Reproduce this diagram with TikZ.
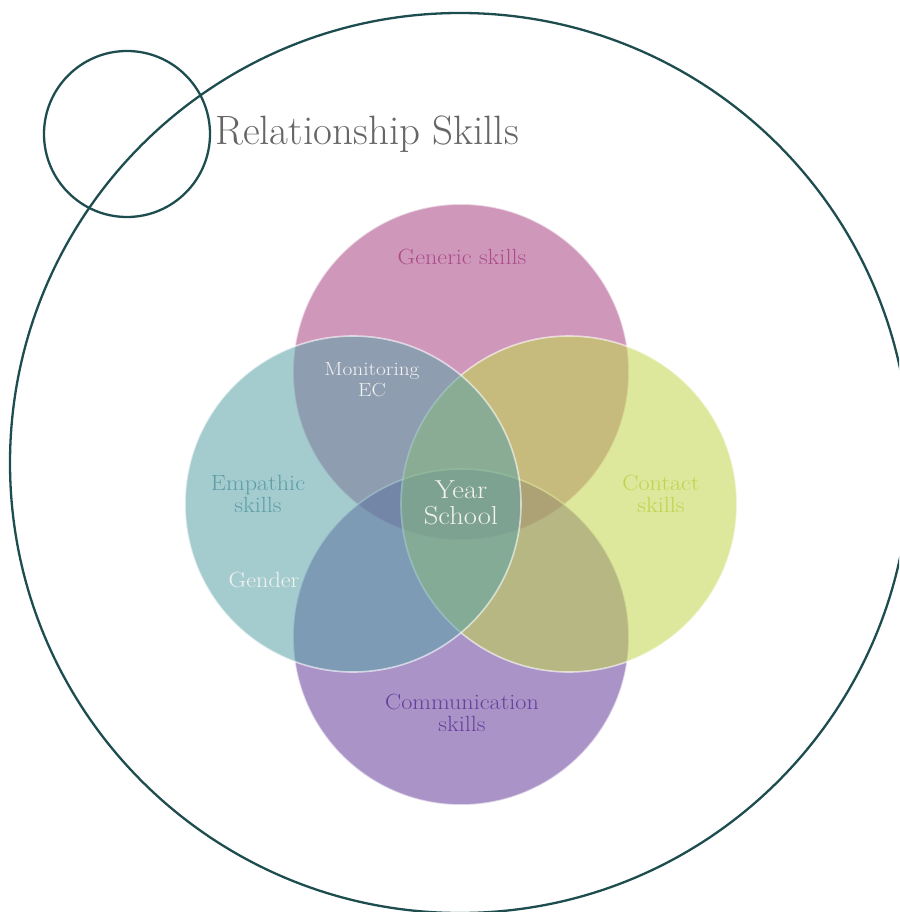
\documentclass[tikz,border=0pt]{standalone}
\begin{document}
\definecolor{ringcol}{RGB}{30,77,79}
\definecolor{pinkfill}{RGB}{168,68,131}
\definecolor{tealfill}{RGB}{90,162,168}
\definecolor{limefill}{RGB}{193,213,75}
\definecolor{violetfill}{RGB}{100,60,153}
\definecolor{titlegray}{RGB}{102,102,102}
\definecolor{pinktext}{RGB}{172,76,138}
\definecolor{tealtext}{RGB}{92,158,163}
\definecolor{limetext}{RGB}{190,212,78}
\definecolor{violettext}{RGB}{102,64,156}
\definecolor{softwhite}{RGB}{242,242,240}
\begin{tikzpicture}[x=1pt,y=-1pt,
  ring/.style={draw=ringcol,line width=2.3pt},
  petal/.style={fill=#1,fill opacity=0.55,draw=white,draw opacity=0.6,line width=1.6pt},
  lbl/.style={align=center,inner sep=0pt,xscale=1.1,font=\fontsize{22}{22}\selectfont}]
\useasboundingbox (0,0) rectangle (899,912);
% outer rings
\begin{scope}
\clip (0,0) rectangle (899,912);
\draw[ring] (460,463) circle[radius=450pt];
\end{scope}
\draw[ring] (127,134) circle[radius=83pt];
% the four overlapping skill circles
\path[petal=pinkfill]   (461,372) circle[radius=168pt];
\path[petal=violetfill] (461,637) circle[radius=168pt];
\path[petal=limefill]   (569,504) circle[radius=168pt];
\path[petal=tealfill]   (353,504) circle[radius=168pt];
% labels
\node[anchor=west,inner sep=0pt,text=titlegray,font=\fontsize{41}{46}\selectfont] (title) at (215,134) {Relationship Skills};
\node[lbl,text=pinktext] (generic) at (462,257) {Generic skills};
\node[lbl,text=softwhite,xscale=1.02,font=\fontsize{19}{21}\selectfont] (monitor) at (372,380) {Monitoring\\EC};
\node[lbl,text=tealtext] (empathic) at (258,494) {Empathic\\skills};
\node[lbl,text=softwhite] (gender) at (264,580) {Gender};
\node[lbl,text=softwhite,font=\fontsize{26}{26}\selectfont] (core) at (461,503) {Year\\School};
\node[lbl,text=limetext] (contact) at (661,494) {Contact\\skills};
\node[lbl,text=violettext] (comm) at (462,713) {Communication\\skills};
\end{tikzpicture}
\end{document}
